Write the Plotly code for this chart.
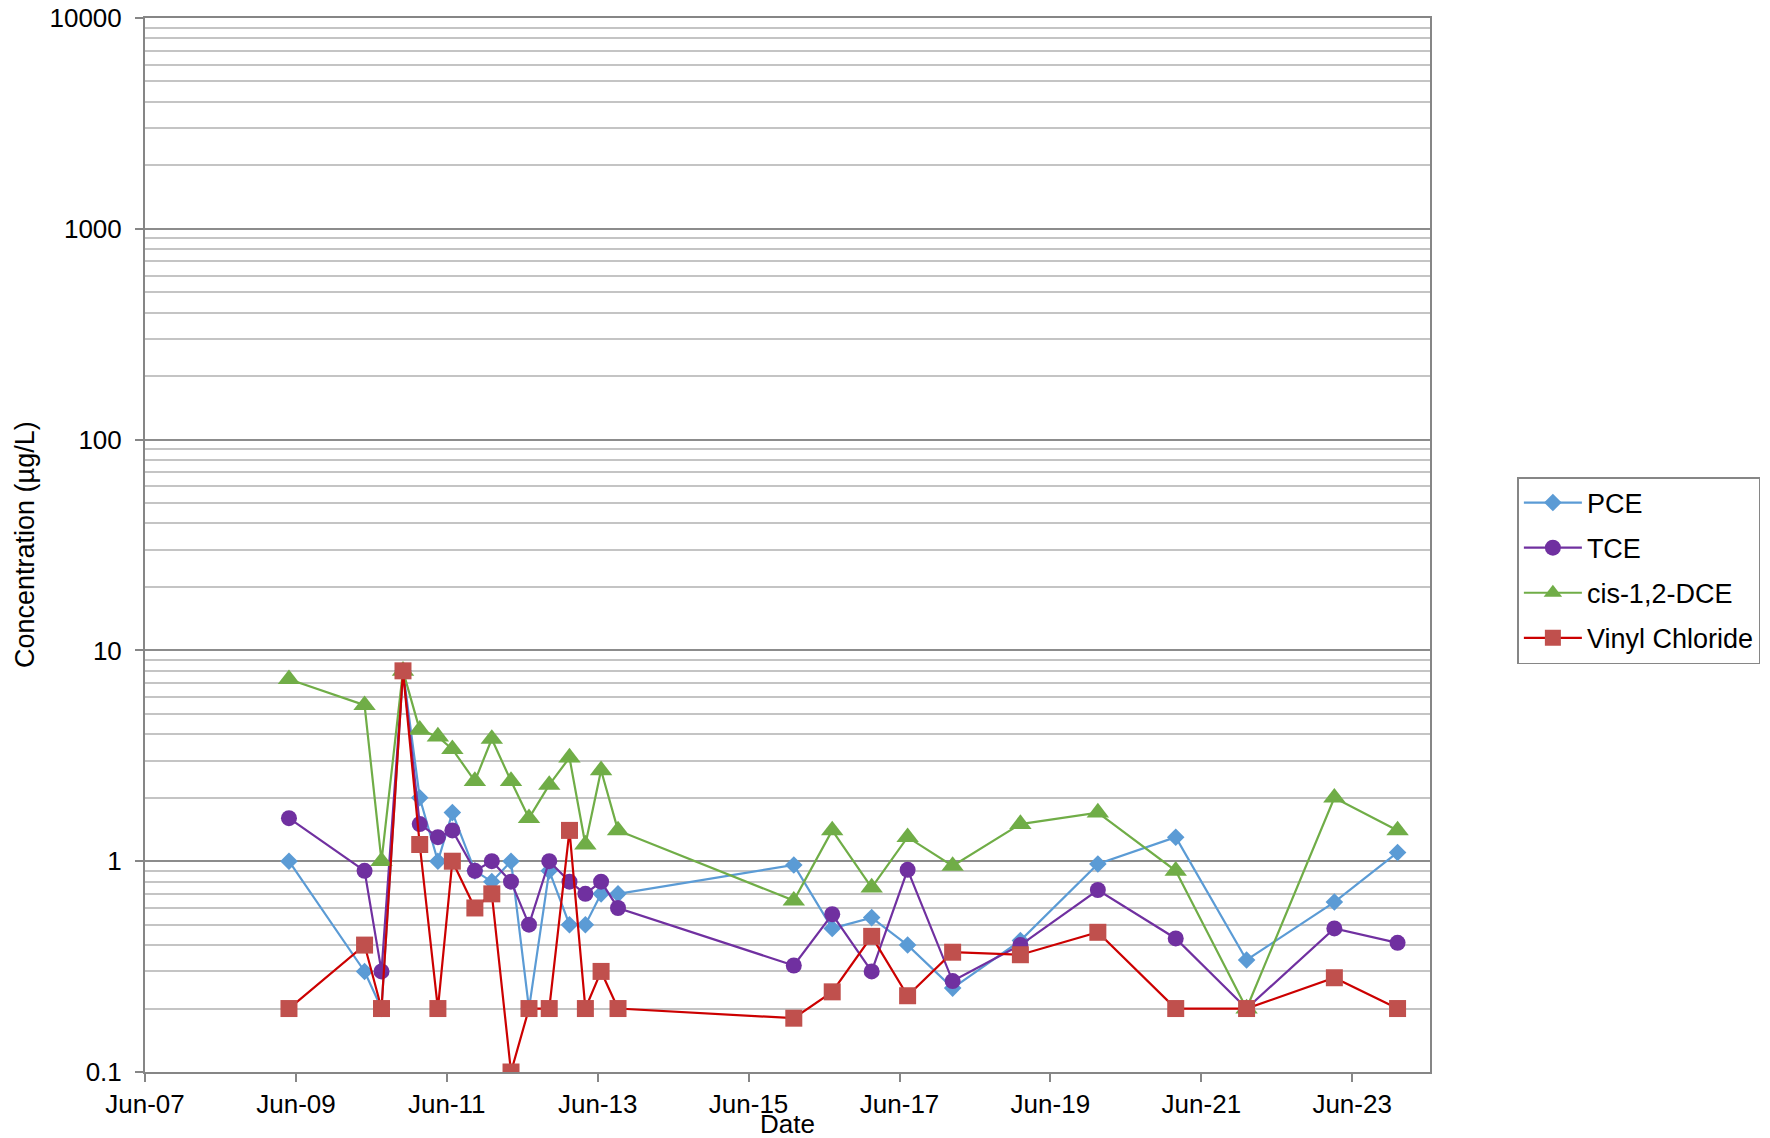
import plotly.graph_objects as go

dates = [
    "2009-04-28", "2010-04-29", "2010-07-20", "2010-11-01", "2011-01-21",
    "2011-04-19", "2011-06-28", "2011-10-15", "2012-01-05", "2012-04-07",
    "2012-07-03", "2012-10-09", "2013-01-15", "2013-04-02", "2013-06-17",
    "2013-09-07", "2016-01-06", "2016-07-10", "2017-01-17", "2017-07-10",
    "2018-02-13", "2019-01-07", "2020-01-17", "2021-01-28", "2022-01-06",
    "2023-03-07", "2024-01-07",
]
pce = [1.0, 0.3, 0.2, 8.0, 2.0, 1.0, 1.7, 0.9, 0.8, 1.0, 0.2, 0.9, 0.5, 0.5,
       0.7, 0.7, 0.96, 0.48, 0.54, 0.4, 0.25, 0.42, 0.97, 1.3, 0.34, 0.64, 1.1]
tce = [1.6, 0.9, 0.3, 8.0, 1.5, 1.3, 1.4, 0.9, 1.0, 0.8, 0.5, 1.0, 0.8, 0.7,
       0.8, 0.6, 0.32, 0.56, 0.3, 0.91, 0.27, 0.4, 0.73, 0.43, 0.2, 0.48, 0.41]
dce = [7.3, 5.5, 1.0, 8.0, 4.2, 3.9, 3.4, 2.4, 3.8, 2.4, 1.6, 2.3, 3.1, 1.2,
       2.7, 1.4, 0.65, 1.4, 0.75, 1.3, 0.95, 1.5, 1.7, 0.9, 0.2, 2.0, 1.4]
vc = [0.2, 0.4, 0.2, 8.0, 1.2, 0.2, 1.0, 0.6, 0.7, 0.1, 0.2, 0.2, 1.4, 0.2,
      0.3, 0.2, 0.18, 0.24, 0.44, 0.23, 0.37, 0.36, 0.46, 0.2, 0.2, 0.28, 0.2]

series_names = ["PCE", "TCE", "cis-1,2-DCE", "Vinyl Chloride"]
y_tickvals = [0.1, 1, 10, 100, 1000, 10000]
y_ticktext = ["0.1", "1", "10", "100", "1000", "10000"]
x_range = ["2007-06-01", "2024-06-12"]

FONT = "Liberation Sans, Arial, sans-serif"
styles = [
    dict(line_color="#5B9BD5", marker_color="#5B9BD5", symbol="diamond", size=13.5),
    dict(line_color="#7030A0", marker_color="#7030A0", symbol="circle", size=16),
    dict(line_color="#70AD47", marker_color="#70AD47", symbol="triangle-up", size=19.5),
    dict(line_color="#CC0000", marker_color="#C0504D", symbol="square", size=17),
]

fig = go.Figure()
for name, vals, st in zip(series_names, [pce, tce, dce, vc], styles):
    fig.add_trace(go.Scatter(
        x=dates, y=vals, name=name, mode="lines+markers",
        legendgroup=name,
        line=dict(color=st["line_color"], width=2.2),
        marker=dict(symbol=st["symbol"], size=st["size"], color=st["marker_color"],
                    line=dict(width=0)),
    ))

fig.update_layout(
    width=1762, height=1130,
    margin=dict(l=137, r=338, t=10, b=66),
    paper_bgcolor="white", plot_bgcolor="white",
    font=dict(family=FONT, size=26, color="black"),
    showlegend=True,
    legend=dict(
        x=1.068, y=0.5645, xanchor="left", yanchor="top",
        bordercolor="#868686", borderwidth=1.5, bgcolor="white",
        font=dict(family=FONT, size=27, color="black"),
        tracegroupgap=7, itemwidth=58,
    ),
    xaxis=dict(
        type="date", range=x_range,
        tick0="2007-06-01", dtick="M24", tickformat="%b-%y",
        ticks="outside", ticklen=8, tickcolor="#868686", tickwidth=2,
        showgrid=False, showline=True, linecolor="#868686", linewidth=2,
        mirror=True, zeroline=False,
        tickfont=dict(family=FONT, size=26, color="black"),
        automargin=False,
    ),
    yaxis=dict(
        type="log", range=[-1, 4],
        tickmode="array", tickvals=y_tickvals, ticktext=y_ticktext,
        ticks="outside", ticklen=8, tickcolor="#868686", tickwidth=2,
        ticklabelstandoff=8, ticklabeloverflow="allow",
        showgrid=True, gridcolor="#8C8C8C", gridwidth=2,
        showline=True, linecolor="#868686", linewidth=2, mirror=True,
        zeroline=False,
        minor=dict(dtick="D1", showgrid=True, gridcolor="#C4C4C4", gridwidth=2, ticks=""),
        tickfont=dict(family=FONT, size=26, color="black"),
        automargin=False,
    ),
    annotations=[
        dict(text="Date", xref="paper", yref="paper", x=0.5, y=0,
             xanchor="center", yanchor="top", yshift=-35, showarrow=False,
             font=dict(family=FONT, size=26, color="black")),
        dict(text="Concentration (µg/L)", xref="paper", yref="paper", x=0, y=0.5,
             xanchor="center", yanchor="middle", xshift=-120, textangle=-90,
             showarrow=False, font=dict(family=FONT, size=27, color="black")),
    ],
)

fig.write_html("out.html")
